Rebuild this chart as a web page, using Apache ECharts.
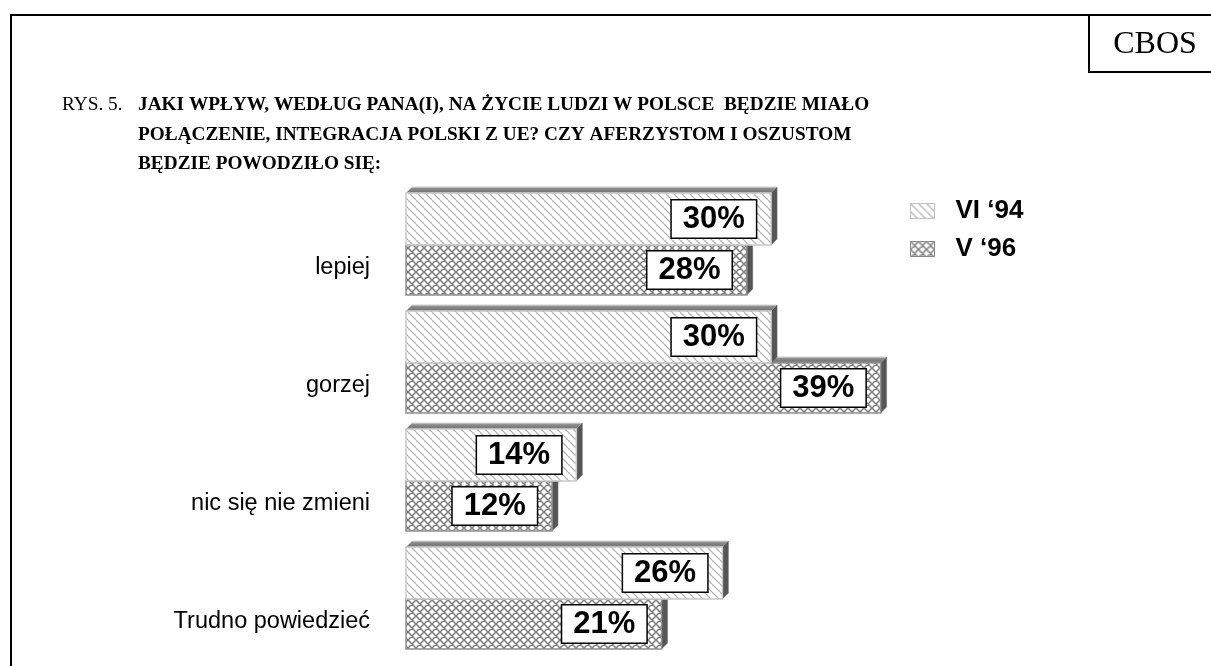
<!DOCTYPE html>
<html><head><meta charset="utf-8">
<script src="https://cdn.jsdelivr.net/npm/echarts@6/dist/echarts.min.js"></script>
<style>html,body{margin:0;padding:0;background:#fff}#c{width:1211px;height:666px}</style>
</head><body><div id="c"></div>
<script>
const categories = ['lepiej', 'gorzej', 'nic się nie zmieni', 'Trudno powiedzieć'];
const seriesNames = ['VI ‘94', 'V ‘96'];
const vi94 = [30, 30, 14, 26];
const v96 = [28, 39, 12, 21];
const figLabel = 'RYS. 5.';
const titleLines = [
  'JAKI WPŁYW, WEDŁUG PANA(I), NA ŻYCIE LUDZI W POLSCE  BĘDZIE MIAŁO',
  'POŁĄCZENIE, INTEGRACJA POLSKI Z UE? CZY AFERZYSTOM I OSZUSTOM',
  'BĘDZIE POWODZIŁO SIĘ:'
];
const sourceLabel = 'CBOS';

const SANS = '"Liberation Sans", Arial, sans-serif';
const SERIF = '"Liberation Serif", "Times New Roman", serif';

function diagPattern() {
  const s = 8, cv = document.createElement('canvas');
  cv.width = s; cv.height = s;
  const g = cv.getContext('2d');
  g.fillStyle = '#fff'; g.fillRect(0, 0, s, s);
  g.strokeStyle = '#b4b4b4'; g.lineWidth = 1.3;
  g.beginPath();
  for (const k of [-s, 0, s]) { g.moveTo(k, 0); g.lineTo(k + s, s); }
  g.stroke();
  return { image: cv, repeat: 'repeat' };
}
function crossPattern() {
  const s = 8, cv = document.createElement('canvas');
  cv.width = s; cv.height = s;
  const g = cv.getContext('2d');
  g.fillStyle = '#fff'; g.fillRect(0, 0, s, s);
  g.strokeStyle = '#7e7e7e'; g.lineWidth = 1.5;
  g.beginPath();
  for (const k of [-s, 0, s]) {
    g.moveTo(k, 0); g.lineTo(k + s, s);
    g.moveTo(k, s); g.lineTo(k + s, 0);
  }
  g.stroke();
  return { image: cv, repeat: 'repeat' };
}
const diag = diagPattern();
const cross = crossPattern();

function topGrad() {
  return new echarts.graphic.LinearGradient(0, 0, 0, 1, [
    { offset: 0, color: '#d8d8d8' },
    { offset: 0.3, color: '#8a8a8a' },
    { offset: 1, color: '#707070' }
  ]);
}

function makeRender(upper, pat, stroke) {
  return function (params, api) {
    const v = api.value(0), ci = api.value(1);
    const a = api.coord([0, ci]), b = api.coord([v, ci]);
    const band = api.size([0, 1])[1];
    const k = band / 118;
    const c = a[1];
    const y0 = upper ? c - 49 * k : c + 3 * k;
    const y1 = upper ? c + 3 * k : c + 53 * k;
    const x0 = a[0], x1 = b[0], d = 6 * k;
    return {
      type: 'group',
      children: [
        { type: 'polygon', shape: { points: [[x0, y0], [x1, y0], [x1 + d, y0 - d], [x0 + d, y0 - d]] },
          style: { fill: topGrad(), stroke: '#c8c8c8', lineWidth: 0.8 } },
        { type: 'polygon', shape: { points: [[x1, y0], [x1 + d, y0 - d], [x1 + d, y1 - d], [x1, y1]] },
          style: { fill: '#555', stroke: '#777', lineWidth: 0.5 } },
        { type: 'rect', shape: { x: x0, y: y0, width: x1 - x0, height: y1 - y0 },
          style: { fill: pat, stroke: stroke, lineWidth: 1.5 },
          textContent: { style: { text: v + '%', font: 'bold 31px ' + SANS, fill: '#000',
            backgroundColor: '#fff', borderColor: '#000', borderWidth: 1.5, padding: [4, 11, 2, 11] } },
          textConfig: { position: 'insideRight', distance: 16 } }
      ]
    };
  };
}

const chart = echarts.init(document.getElementById('c'), null, { renderer: 'canvas' });
chart.setOption({
  animation: false,
  backgroundColor: '#fff',
  grid: { left: 406, right: 196.5, top: 183, bottom: 11 },
  xAxis: { type: 'value', min: 0, max: 50, show: false },
  yAxis: {
    type: 'category', inverse: true, data: categories,
    axisLine: { show: false }, axisTick: { show: false }, splitLine: { show: false },
    axisLabel: { fontSize: 23.5, fontFamily: SANS, color: '#000', margin: 36, lineHeight: 52,
      formatter: function (v) { return '\u00a0\n' + v; } }
  },
  legend: {
    orient: 'vertical', left: 905, top: 193, itemWidth: 24, itemHeight: 15, itemGap: 12,
    textStyle: { fontSize: 26, fontWeight: 'bold', fontFamily: SANS, color: '#000', padding: [0, 0, 0, 16] },
    data: [
      { name: seriesNames[0], icon: 'rect', itemStyle: { color: diag, borderColor: '#c0c0c0', borderWidth: 1 } },
      { name: seriesNames[1], icon: 'rect', itemStyle: { color: cross, borderColor: '#888', borderWidth: 1 } }
    ]
  },
  series: [
    { type: 'custom', name: seriesNames[0], z: 3, itemStyle: { color: diag },
      encode: { x: 0, y: 1 },
      data: vi94.map((v, i) => [v, i]), renderItem: makeRender(true, diag, '#c8c8c8') },
    { type: 'custom', name: seriesNames[1], z: 2, itemStyle: { color: cross },
      encode: { x: 0, y: 1 },
      data: v96.map((v, i) => [v, i]), renderItem: makeRender(false, cross, '#909090') }
  ],
  graphic: [
    { type: 'line', shape: { x1: 10, y1: 15, x2: 1211, y2: 15 }, style: { stroke: '#000', lineWidth: 2 } },
    { type: 'line', shape: { x1: 11, y1: 14, x2: 11, y2: 666 }, style: { stroke: '#000', lineWidth: 2 } },
    { type: 'rect', shape: { x: 1089, y: 15, width: 130, height: 57 }, style: { fill: 'none', stroke: '#000', lineWidth: 2 } },
    { type: 'text', x: 1155, y: 45, style: { text: sourceLabel, font: '32px ' + SERIF, fill: '#000', align: 'center', verticalAlign: 'middle' } },
    { type: 'text', x: 62, y: 105, style: { text: figLabel, font: '19.3px ' + SERIF, fill: '#000', verticalAlign: 'middle' } },
    { type: 'text', x: 138, y: 105, style: { text: titleLines[0], font: 'bold 19.3px ' + SERIF, fill: '#000', verticalAlign: 'middle' } },
    { type: 'text', x: 138, y: 135, style: { text: titleLines[1], font: 'bold 19.3px ' + SERIF, fill: '#000', verticalAlign: 'middle' } },
    { type: 'text', x: 138, y: 164, style: { text: titleLines[2], font: 'bold 19.3px ' + SERIF, fill: '#000', verticalAlign: 'middle' } }
  ]
});
</script>
</body></html>
